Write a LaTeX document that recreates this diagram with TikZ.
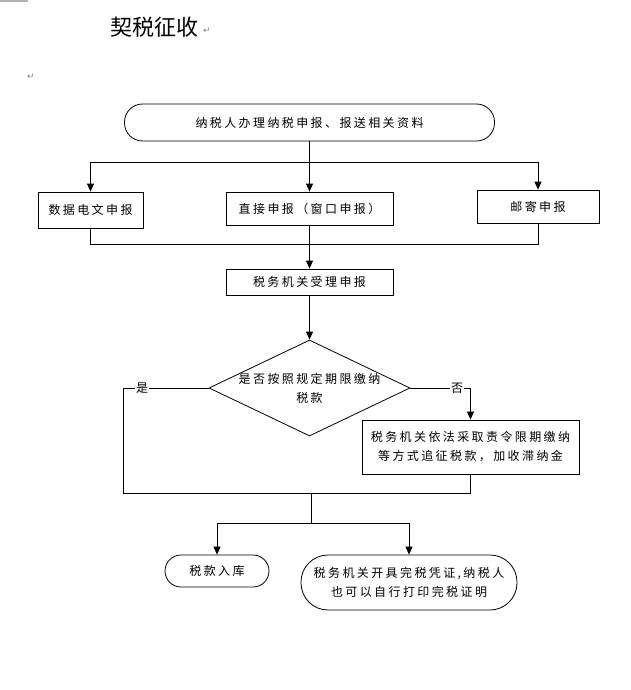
\documentclass[tikz,border=0pt]{standalone}
\usepackage{fontspec}
\usetikzlibrary{arrows.meta,shapes.geometric}
\newfontfamily\cjk[LetterSpace=20]{Noto Sans CJK SC}
\newfontfamily\cjktitle{Noto Sans CJK SC}
\newfontfamily\symfont{DejaVu Sans}
\begin{document}
\begin{tikzpicture}[x=1pt,y=-1pt,
  every node/.style={font=\cjk\fontsize{12}{19}\selectfont, align=center, inner sep=0pt},
  boxnode/.style={draw, line width=0.8pt, rectangle},
  termnode/.style={draw, line width=0.8pt, rectangle},
  ln/.style={line width=0.8pt},
  arr/.style={line width=0.8pt, -{Triangle[length=8pt,width=7pt]}},
  lab/.style={fill=white, inner sep=1pt},
  pmark/.style={font=\symfont\fontsize{9}{9}\selectfont, text=gray}]
\useasboundingbox (0,0) rectangle (631,690);
\draw[gray!60, line width=1.5pt] (0,1) -- (28,1);
\node[font=\cjktitle\fontsize{22}{22}\selectfont] (title) at (154,27) {契税征收};
\node[pmark] (pm1) at (207,31) {↵};
\node[pmark] (pm2) at (31,77) {↵};

\node[termnode, rounded corners=18pt, minimum width=370pt, minimum height=37pt] (top) at (309.5,122.5) {纳税人办理纳税申报、报送相关资料};
\node[boxnode, minimum width=105pt, minimum height=36pt] (bl) at (90.5,210) {数据电文申报};
\node[boxnode, minimum width=167pt, minimum height=33pt] (mid) at (309.5,208.5) {直接申报（窗口申报）};
\node[boxnode, minimum width=122pt, minimum height=33pt] (br) at (538,206.5) {邮寄申报};
\node[boxnode, minimum width=167pt, minimum height=26pt] (recv) at (309.5,282) {税务机关受理申报};
\node[draw, line width=0.8pt, diamond, minimum width=201pt, minimum height=96pt] (dec) at (309.5,388) {};
\node (dectext) at (dec.center) {是否按照规定期限缴纳\\税款};
\node[boxnode, minimum width=217pt, minimum height=54pt] (pen) at (470.5,447) {税务机关依法采取责令限期缴纳\\等方式追征税款，加收滞纳金};
\node[termnode, rounded corners=16pt, minimum width=104pt, minimum height=32pt] (tl) at (217,571) {税款入库};
\node[termnode, rounded corners=27pt, minimum width=216pt, minimum height=55pt] (tr) at (409,582.5) {税务机关开具完税凭证,纳税人\\也可以自行打印完税证明};

\coordinate (j1) at (309.5,162);
\coordinate (j2) at (309.5,244);
\coordinate (j3) at (123,493);
\coordinate (j4) at (311,493);
\coordinate (j5) at (311,523);

\draw[arr] (top.south) -- (mid.north);
\draw[arr] (j1) -| (bl.north);
\draw[arr] (j1) -| (br.north);
\draw[ln] (bl.south) |- (j2);
\draw[ln] (br.south) |- (j2);
\draw[arr] (mid.south) -- (recv.north);
\draw[arr] (recv.south) -- (dec.north);
\draw[ln] (dec.west) -| (j3);
\draw[arr] (dec.east) -| (pen.north);
\draw[ln] (pen.south) |- (j4);
\draw[ln] (j3) -- (j4);
\draw[ln] (j4) -- (j5);
\draw[arr] (j5) -| (tl.north);
\draw[arr] (j5) -| (tr.north);
\node[lab] (yes) at (142,388) {是};
\node[lab] (no) at (457,388) {否};
\end{tikzpicture}
\end{document}
